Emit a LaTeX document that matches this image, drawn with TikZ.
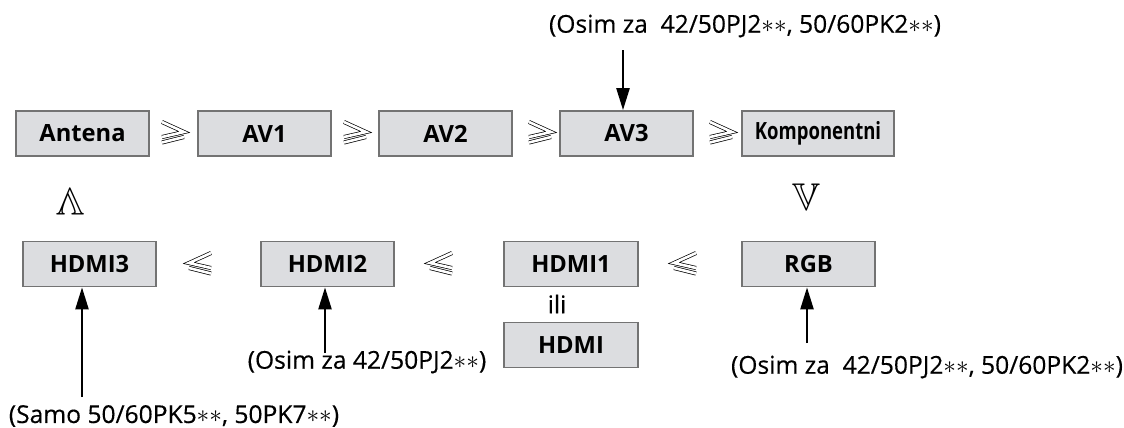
\documentclass[tikz,border=0pt]{standalone}
\usepackage{amssymb}
\usepackage{graphicx}
\usepackage{fontspec}
\setmainfont{Open Sans}
\newfontfamily\notefont[FakeBold=0.35]{Open Sans}
\usepackage{tikz}
\usetikzlibrary{arrows.meta,positioning}
\definecolor{boxfill}{HTML}{DCDDE0}
\definecolor{boxline}{HTML}{737373}
\newcommand{\stars}{${\ast}{\ast}$}

\begin{document}
\begin{tikzpicture}[x=0.02cm,y=-0.02cm,>=Stealth]
  \tikzset{
    src/.style={rectangle,draw=boxline,line width=1.1pt,fill=boxfill,minimum width=2.66cm,
                minimum height=0.9cm,inner sep=0pt,font=\fontsize{13.5}{15}\selectfont\bfseries},
    sep/.style={inner sep=0pt,font=\fontsize{22}{22}\selectfont},
    note/.style={inner sep=0pt,font=\notefont\fontsize{14}{16}\selectfont},
    hollow/.style={draw=black,line width=0.4pt,double=white,double distance=1.5pt,line join=miter},
    arr/.style={-{Triangle[length=12.5pt,width=7.5pt]},line width=1.1pt},
    pics/geqs/.style={code={
      \draw[hollow] (-11,-10) -- (11,0) -- (-11,5);
      \draw[hollow] (-11,10.5) -- (11,5);}}}
  \useasboundingbox (0,0) rectangle (1124,427);
  % top row
  \node[src] (ant) at (82.5,133.5){Antena};
  \node[src] (av1) at (264.5,133.5){AV1};
  \node[src] (av2) at (445.5,133.5){AV2};
  \node[src] (av3) at (626.5,133.5){AV3};
  \node[src,minimum width=3.04cm] (komp) at (818,133.5){\scalebox{0.78}[1]{Komponentni}};
  \foreach \x in {173,355,540,721}
    \pic at (\x,132) {geqs};
  \node[sep] (dn) at (806,197){$\mathbb{V}$};
  \node[sep,rotate=180] (up) at (71,202){$\mathbb{V}$};
  % bottom row
  \node[src] (hdmi3) at (89.5,264){HDMI3};
  \node[src] (hdmi2) at (327.5,264){HDMI2};
  \node[src,minimum width=2.68cm] (hdmi1) at (571,264){HDMI1};
  \node[src,minimum width=2.68cm] (hdmi) at (571,345){HDMI};
  \node[src] (rgb) at (808.5,264){RGB};
  \foreach \x in {200,441,685}
    \pic[xscale=-1] at (\x,263) {geqs};
  \node[note] (ili) at (557,304){ili};
  % notes
  \node[note] (topnote) at (745,26){(Osim za\ \ 42/50PJ2\stars, 50/60PK2\stars)};
  \node[note] (rgbnote) at (927,367){(Osim za\ \ 42/50PJ2\stars, 50/60PK2\stars)};
  \node[note] (h2note) at (367,362){(Osim za 42/50PJ2\stars)};
  \node[note] (h3note) at (174,416){(Samo 50/60PK5\stars, 50PK7\stars)};
  \coordinate (t3) at (623,50);
  \coordinate (t2) at (325,353);
  \coordinate (t1) at (82,397);
  \coordinate (t0) at (807,343);
  \draw[arr] (t3) -- (t3 |- av3.north);
  \draw[arr] (t2) -- (t2 |- hdmi2.south);
  \draw[arr] (t1) -- (t1 |- hdmi3.south);
  \draw[arr] (t0) -- (t0 |- rgb.south);
\end{tikzpicture}
\end{document}
